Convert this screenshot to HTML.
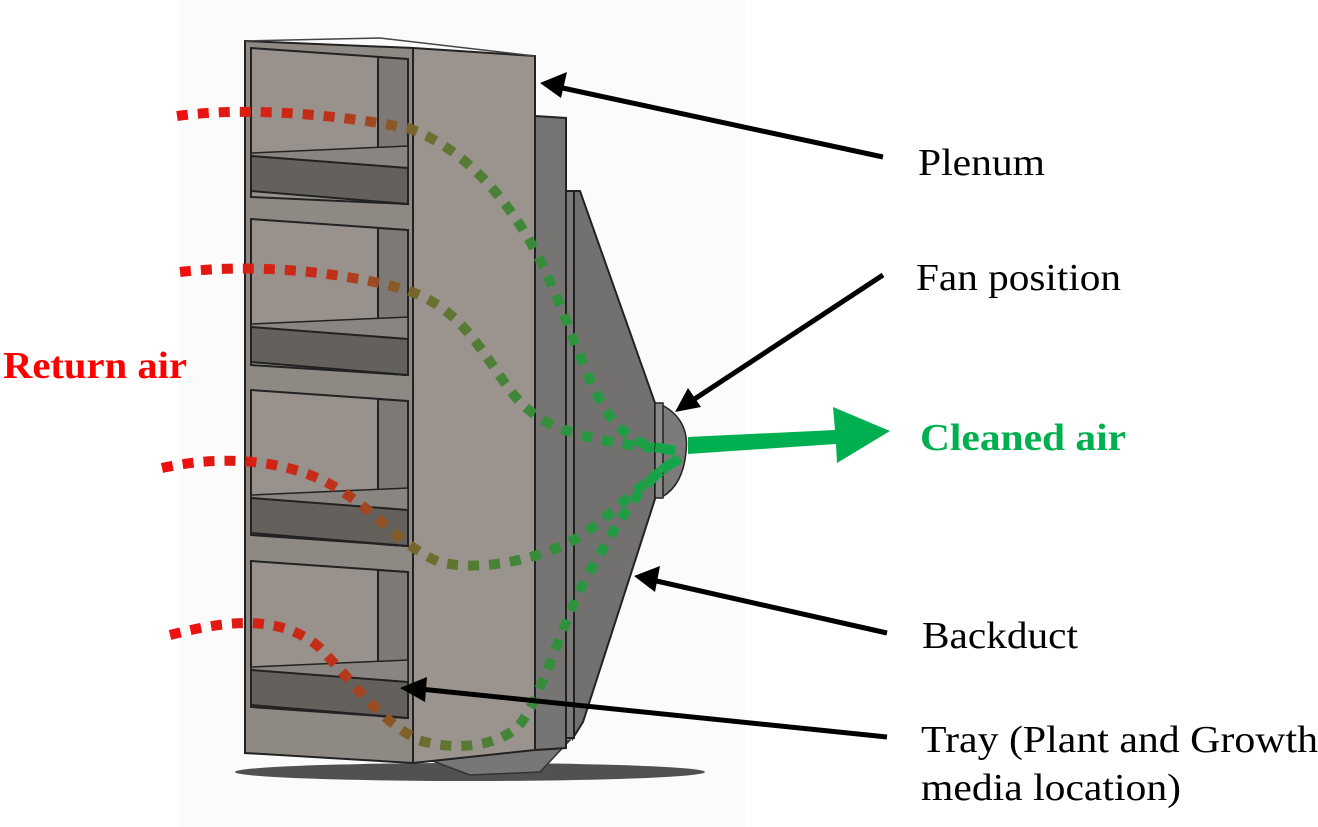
<!DOCTYPE html>
<html><head><meta charset="utf-8"><style>html,body{margin:0;padding:0;background:#fff}svg{display:block}</style></head>
<body>
<svg width="1318" height="827" viewBox="0 0 1318 827" xmlns="http://www.w3.org/2000/svg">
<defs>
<linearGradient id="g" gradientUnits="userSpaceOnUse" x1="180" y1="0" x2="680" y2="0">
<stop offset="0" stop-color="#ee1010"/>
<stop offset="0.3" stop-color="#c03018"/>
<stop offset="0.5" stop-color="#6a7030"/>
<stop offset="0.7" stop-color="#3a8a3a"/>
<stop offset="1" stop-color="#10a84a"/>
</linearGradient>
</defs>
<rect x="180" y="0" width="565" height="827" fill="#fbfbfb"/>
<ellipse cx="470" cy="772" rx="235" ry="9" fill="#333" opacity="0.85"/>
<path d="M430 760 L470 775 L540 772 L570 740 Z" fill="#777" stroke="#333" stroke-width="1.5"/>
<path d="M573 191 L580 191 L655 403 L655 499 L583 722 L573 738 Z" fill="#727170" stroke="#222" stroke-width="2"/>
<rect x="566" y="191" width="8" height="547" fill="#7c7a78" stroke="#222" stroke-width="2"/>
<path d="M535 116 L566 118 L566 748 L535 750 Z" fill="#777573" stroke="#222" stroke-width="2"/>
<path d="M662 405 Q690 420 686 452 Q683 485 662 497 Z" fill="#7d7b79" stroke="#222" stroke-width="1.5"/>
<rect x="655" y="403" width="8" height="95" fill="#8a8886" stroke="#222" stroke-width="1.5"/>
<path d="M245 41 L413 48 L413 763 L245 753 Z" fill="#8f8984" stroke="#222" stroke-width="2"/>
<path d="M413 48 L535 56 L535 750 L413 763 Z" fill="#9b948e" stroke="#222" stroke-width="2"/>
<path d="M245 41 L380 38 L535 56" fill="none" stroke="#444" stroke-width="1.5"/>
<g stroke="#222" stroke-width="2">
<path d="M251 48 L408 59 L408 204 L251 197 Z" fill="#99928c"/>
<path d="M378 57 L408 59 L408 204 L378 202 Z" fill="#7e7975"/>
<path d="M251 153 L408 146 L408 168 L251 156 Z" fill="#8a8581" stroke-width="1.5"/>
<path d="M251 156 L408 168 L408 204 L251 191 Z" fill="#64615d"/>
<path d="M251 219 L408 230 L408 375 L251 365 Z" fill="#99928c"/>
<path d="M378 228 L408 230 L408 375 L378 373 Z" fill="#7e7975"/>
<path d="M251 324 L408 317 L408 339 L251 327 Z" fill="#8a8581" stroke-width="1.5"/>
<path d="M251 327 L408 339 L408 375 L251 362 Z" fill="#64615d"/>
<path d="M251 390 L408 401 L408 546 L251 535 Z" fill="#99928c"/>
<path d="M378 399 L408 401 L408 546 L378 544 Z" fill="#7e7975"/>
<path d="M251 495 L408 488 L408 510 L251 498 Z" fill="#8a8581" stroke-width="1.5"/>
<path d="M251 498 L408 510 L408 546 L251 533 Z" fill="#64615d"/>
<path d="M251 561 L408 572 L408 718 L251 707 Z" fill="#99928c"/>
<path d="M378 570 L408 572 L408 718 L378 716 Z" fill="#7e7975"/>
<path d="M251 667 L408 660 L408 682 L251 670 Z" fill="#8a8581" stroke-width="1.5"/>
<path d="M251 670 L408 682 L408 718 L251 705 Z" fill="#64615d"/>
</g>
<g fill="none" stroke="url(#g)" stroke-width="10" stroke-dasharray="11 10">
<path d="M177 116 C220 110 300 108 408 128 C470 150 515 210 540 260 C570 320 590 400 620 428 C635 442 645 447 675 450"/>
<path d="M180 272 C250 264 330 270 400 288 C460 305 480 350 510 390 C540 430 580 440 680 451"/>
<path d="M162 468 C220 455 290 458 340 490 C380 515 400 545 439 562 C470 570 520 565 566 544 C600 528 630 490 680 458"/>
<path d="M170 635 C220 622 280 612 320 648 C360 690 380 720 418 740 C450 750 490 748 514 730 C540 710 560 620 594 564 C620 520 640 480 680 458"/>
</g>
<path d="M688 437 L835 430 L833 407 L890 431 L837 463 L836 444 L688 454 Z" fill="#00b050"/>
<g stroke="#000" stroke-width="5" fill="#000">
<line x1="883" y1="157" x2="558" y2="87"/>
<line x1="883" y1="275" x2="690" y2="402"/>
<line x1="887" y1="633" x2="652" y2="580"/>
<line x1="887" y1="737" x2="420" y2="689"/>
</g>
<g fill="#000">
<polygon points="540,83 567,72 561,98"/>
<polygon points="675,412 688,388 701,407"/>
<polygon points="634,576 660,566 655,592"/>
<polygon points="400,688 427,677 425,702"/>
</g>
<g font-family="'Liberation Serif', serif" font-size="38" fill="#000">
<text x="918" y="175" textLength="127" lengthAdjust="spacingAndGlyphs">Plenum</text>
<text x="916" y="290" textLength="205" lengthAdjust="spacingAndGlyphs">Fan position</text>
<text x="922" y="648" textLength="156" lengthAdjust="spacingAndGlyphs">Backduct</text>
<text x="921" y="752" textLength="397" lengthAdjust="spacingAndGlyphs">Tray (Plant and Growth</text>
<text x="921" y="800" textLength="260" lengthAdjust="spacingAndGlyphs">media location)</text>
</g>
<text x="3" y="378" font-family="'Liberation Serif', serif" font-weight="bold" font-size="38" fill="#ff0000" textLength="184" lengthAdjust="spacingAndGlyphs">Return air</text>
<text x="920" y="450" font-family="'Liberation Serif', serif" font-weight="bold" font-size="38" fill="#00b050" textLength="206" lengthAdjust="spacingAndGlyphs">Cleaned air</text>
</svg>
</body></html>
